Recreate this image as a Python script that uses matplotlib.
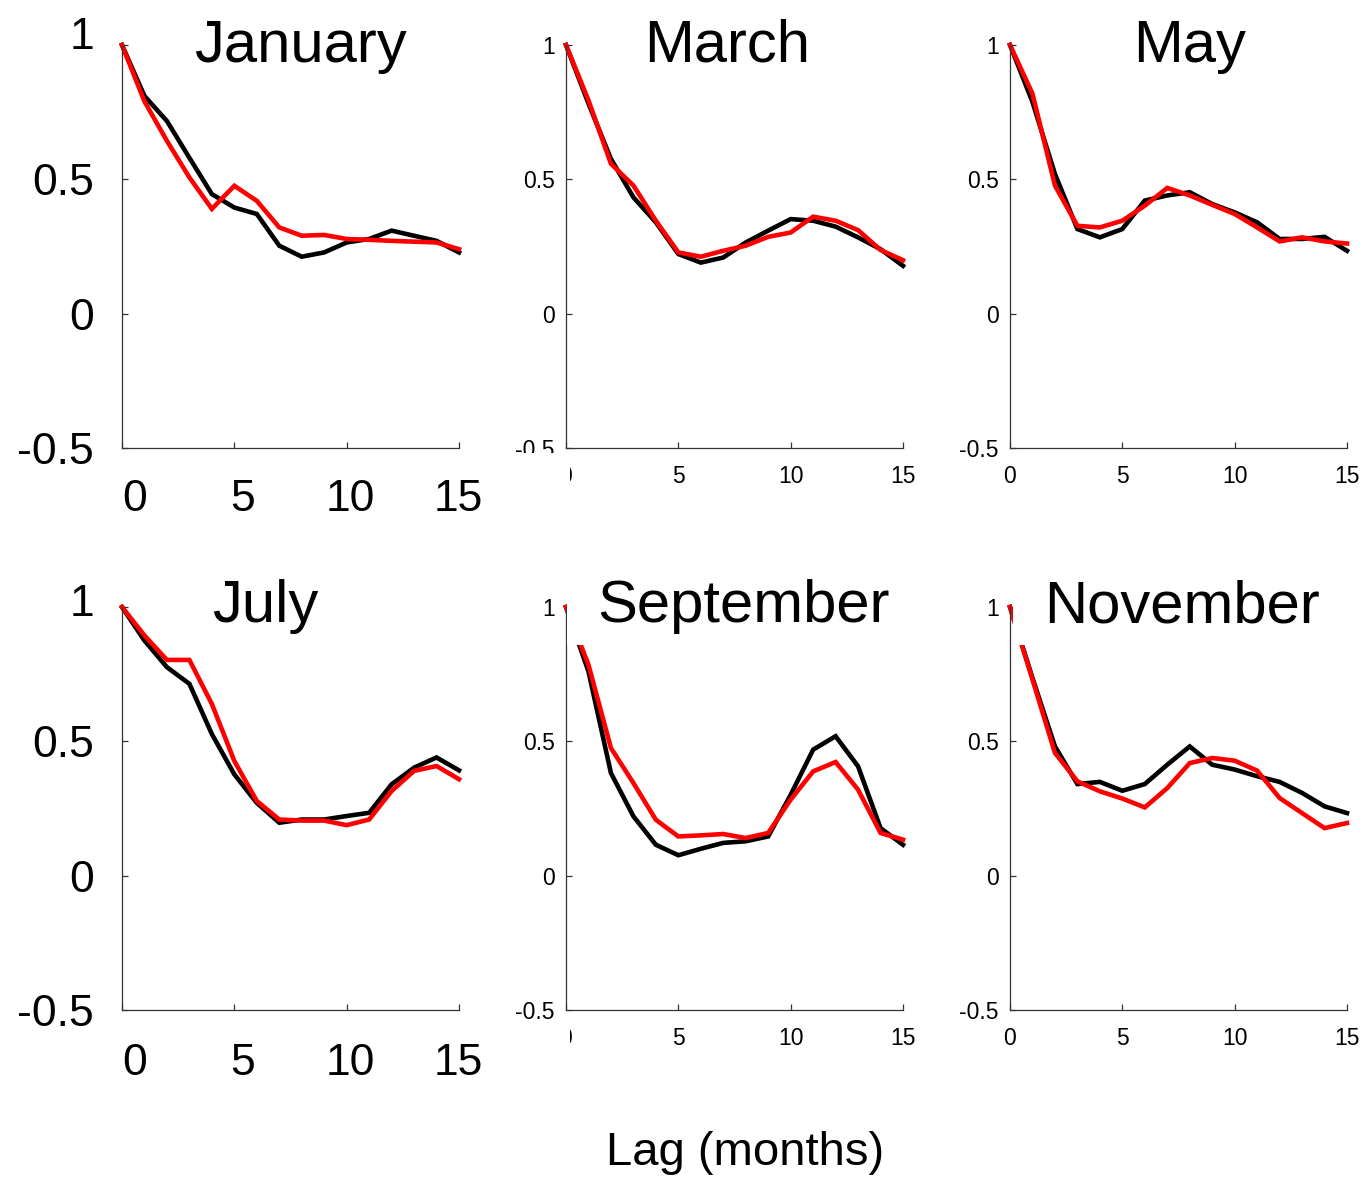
import numpy as np
import matplotlib
matplotlib.use("Agg")
import matplotlib.pyplot as plt
from matplotlib.patches import Rectangle
from matplotlib.transforms import ScaledTranslation

plt.rcParams["font.family"] = ["Liberation Sans", "DejaVu Sans"]

# ---- data: autocorrelation vs. lag for six start months ----
lags = np.arange(16)
months = ["January", "March", "May", "July", "September", "November"]

jan_black = [1.0, 0.81, 0.717, 0.58, 0.445, 0.395, 0.371, 0.253, 0.212, 0.228, 0.265, 0.278, 0.309, 0.29, 0.271, 0.228]
jan_red = [1.0, 0.79, 0.643, 0.507, 0.39, 0.476, 0.42, 0.321, 0.29, 0.293, 0.278, 0.275, 0.271, 0.268, 0.265, 0.24]

mar_black = [1.0, 0.782, 0.576, 0.433, 0.34, 0.222, 0.19, 0.209, 0.265, 0.309, 0.352, 0.346, 0.324, 0.284, 0.24, 0.178]
mar_red = [1.0, 0.794, 0.558, 0.477, 0.346, 0.228, 0.212, 0.234, 0.253, 0.286, 0.302, 0.361, 0.346, 0.311, 0.237, 0.199]

may_black = [1.0, 0.788, 0.52, 0.315, 0.284, 0.315, 0.421, 0.44, 0.452, 0.408, 0.377, 0.34, 0.278, 0.278, 0.286, 0.234]
may_red = [1.0, 0.819, 0.477, 0.327, 0.321, 0.346, 0.402, 0.468, 0.44, 0.405, 0.371, 0.321, 0.269, 0.284, 0.269, 0.261]

jul_black = [1.0, 0.875, 0.776, 0.714, 0.527, 0.377, 0.271, 0.197, 0.209, 0.209, 0.222, 0.234, 0.34, 0.402, 0.44, 0.392]
jul_red = [1.0, 0.894, 0.803, 0.803, 0.639, 0.427, 0.278, 0.209, 0.205, 0.205, 0.188, 0.209, 0.315, 0.39, 0.408, 0.359]

sep_black = [1.0, 0.76, 0.382, 0.221, 0.115, 0.076, 0.1, 0.122, 0.128, 0.146, 0.301, 0.469, 0.519, 0.407, 0.177, 0.115]
sep_red = [1.0, 0.785, 0.475, 0.345, 0.208, 0.146, 0.15, 0.155, 0.14, 0.159, 0.283, 0.388, 0.423, 0.32, 0.159, 0.134]

nov_black = [1.0, 0.736, 0.481, 0.341, 0.349, 0.316, 0.341, 0.413, 0.481, 0.413, 0.395, 0.37, 0.349, 0.308, 0.258, 0.233]
nov_red = [1.0, 0.73, 0.457, 0.351, 0.314, 0.287, 0.254, 0.326, 0.419, 0.438, 0.428, 0.391, 0.289, 0.233, 0.177, 0.196]

black_series = [jan_black, mar_black, may_black, jul_black, sep_black, nov_black]
red_series = [jan_red, mar_red, may_red, jul_red, sep_red, nov_red]

x_ticks = [0, 5, 10, 15]
x_ticklabels = ["0", "5", "10", "15"]
y_ticks = [-0.5, 0, 0.5, 1]
y_ticklabels = ["-0.5", "0", "0.5", "1"]

# ---- layout (pixels) ----
W, H = 1365, 1179
DPI = 100
fig = plt.figure(figsize=(W / DPI, H / DPI), dpi=DPI)
fig.patch.set_facecolor("white")

col_left = [122, 566, 1010]
row_top = [45, 607]
ax_w, ax_h = 337, 403
title_cx = [[300, 727, 1190], [265, 744, 1182]]
title_base = [62, 622]
spine_col = "#333333"


def fx(px):
    return px / W


def fy(py):
    return 1 - py / H


for i, month in enumerate(months):
    r, c = divmod(i, 3)
    x0, y0 = col_left[c], row_top[r]
    ax = fig.add_axes([fx(x0), fy(y0 + ax_h), ax_w / W, ax_h / H])
    ax.plot(lags, black_series[i], color="black", lw=3.3, clip_on=False,
            solid_joinstyle="miter")
    ax.plot(lags, red_series[i], color="#ff0000", lw=3.3, clip_on=False,
            solid_joinstyle="miter")
    ax.set_xlim(0, 15)
    ax.set_ylim(-0.5, 1)
    for s in ("top", "right"):
        ax.spines[s].set_visible(False)
    for s in ("left", "bottom"):
        ax.spines[s].set_color(spine_col)
        ax.spines[s].set_linewidth(0.9)
    ax.tick_params(which="major", direction="in", length=4, width=0.9,
                   color=spine_col, labelcolor="black")
    ax.set_yticks(y_ticks)
    ax.set_yticklabels(y_ticklabels)
    if c == 0:
        # large labels, set slightly apart from the tick marks
        ax.set_xticks(x_ticks)
        ax.set_xticklabels([])
        ax.set_xticks([0.58, 5.38, 10.15, 14.95], minor=True)
        ax.set_xticklabels(x_ticklabels, minor=True)
        ax.tick_params(axis="x", which="minor", length=0, pad=22 if r == 0 else 24,
                       labelsize=32)
        ax.tick_params(axis="y", labelsize=32, pad=20)
        lab = ax.yaxis.get_major_ticks()[3].label1
        shift = (12 if r == 0 else 7) / DPI
        lab.set_transform(lab.get_transform()
                          + ScaledTranslation(0, shift, fig.dpi_scale_trans))
    else:
        ax.set_xticks(x_ticks)
        ax.set_xticklabels(x_ticklabels)
        ax.tick_params(axis="x", labelsize=16.5, pad=12)
        ax.tick_params(axis="y", labelsize=16.5, pad=8)

    # panel title
    fig.text(fx(title_cx[r][c]), fy(title_base[r]), month, ha="center",
             va="baseline", fontsize=43, zorder=5)

# white backing boxes behind the panel titles
fig.canvas.draw()
renderer = fig.canvas.get_renderer()
for txt in list(fig.texts):
    bb = txt.get_window_extent(renderer)
    cx = (bb.x0 + bb.x1) / 2
    half = (bb.x1 - bb.x0) / 2 + 31
    base_px = txt.get_position()[1] * H  # from bottom
    bottom = base_px - 23
    top = bb.y1 + 8
    fig.patches.append(Rectangle((fx(cx - half), bottom / H), 2 * half / W,
                                 (top - bottom) / H, transform=fig.transFigure,
                                 facecolor="white", edgecolor="none", zorder=2))

# white strips along the middle column's lower-left corner
fig.patches.append(Rectangle((fx(500), fy(500)), 70 / W, 47 / H,
                             transform=fig.transFigure, facecolor="white",
                             edgecolor="none", zorder=2))
fig.patches.append(Rectangle((fx(500), fy(1062)), 70 / W, 38 / H,
                             transform=fig.transFigure, facecolor="white",
                             edgecolor="none", zorder=2))

fig.text(fx(745), fy(1165), "Lag (months)", ha="center", va="baseline",
         fontsize=34)

fig.savefig("out.png", dpi=DPI, facecolor="white")
